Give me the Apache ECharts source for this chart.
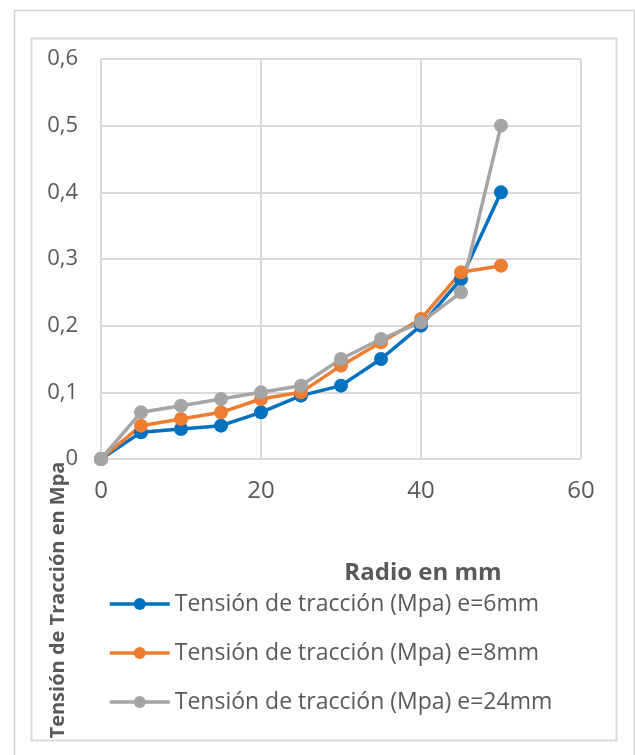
<!DOCTYPE html>
<html>
<head>
<meta charset="utf-8">
<script src="https://cdn.jsdelivr.net/npm/echarts@6/dist/echarts.min.js"></script>
<style>
  html, body { margin: 0; padding: 0; background: #fff; }
  #chart { width: 635px; height: 755px; }
</style>
</head>
<body>
<div id="chart"></div>
<script>
// Radius (mm) at which the tensile stress was measured
const radios = [0, 5, 10, 15, 20, 25, 30, 35, 40, 45, 50];
// Tensile stress (MPa) for each plate thickness
const tension6mm = [0, 0.04, 0.045, 0.05, 0.07, 0.095, 0.11, 0.15, 0.2, 0.27, 0.4];
const tension8mm = [0, 0.05, 0.06, 0.07, 0.09, 0.1, 0.14, 0.175, 0.21, 0.28, 0.29];
const tension24mm = [0, 0.07, 0.08, 0.09, 0.1, 0.11, 0.15, 0.18, 0.205, 0.25, 0.5];
const seriesNames = [
  'Tensión de tracción (Mpa) e=6mm',
  'Tensión de tracción (Mpa) e=8mm',
  'Tensión de tracción (Mpa) e=24mm'
];
const seriesColors = ['#0070c0', '#ed7d31', '#a5a5a5'];

const textColor = '#595959';
const fontFamily = 'Open Sans, Liberation Sans, sans-serif';

function pairs(ys) {
  return radios.map((x, i) => [x, ys[i]]);
}

const chart = echarts.init(document.getElementById('chart'), null, { renderer: 'canvas' });

chart.setOption({
  backgroundColor: '#ffffff',
  animation: false,
  grid: { left: 101, right: 54, top: 59, bottom: 296 },
  xAxis: {
    type: 'value', min: 0, max: 60, interval: 20,
    axisLine: { show: false },
    axisTick: { show: false },
    splitLine: { show: true, lineStyle: { color: '#d9d9d9', width: 2 } },
    axisLabel: { color: textColor, fontSize: 24, fontFamily: fontFamily, margin: 20 }
  },
  yAxis: {
    type: 'value', min: 0, max: 0.6, interval: 0.1,
    axisLine: { show: false },
    axisTick: { show: false },
    splitLine: { show: true, lineStyle: { color: '#d9d9d9', width: 2 } },
    axisLabel: {
      color: textColor, fontSize: 22, fontFamily: fontFamily, margin: 23,
      formatter: v => (v === 0 ? '0' : v.toFixed(1).replace('.', ','))
    }
  },
  legend: {
    orient: 'vertical', left: 103, top: 587,
    itemWidth: 60, itemHeight: 15, itemGap: 25,
    lineStyle: { width: 3.5 },
    textStyle: { color: textColor, fontSize: 23, lineHeight: 24, fontFamily: fontFamily },
    data: seriesNames
  },
  graphic: [
    { type: 'rect', silent: true, z: -1,
      shape: { x: 14.5, y: 10.5, width: 620, height: 760 },
      style: { fill: 'none', stroke: '#d0d0d0', lineWidth: 1.5 } },
    { type: 'rect', silent: true, z: -1,
      shape: { x: 31.5, y: 38.5, width: 585, height: 702 },
      style: { fill: 'none', stroke: '#d9d9d9', lineWidth: 2 } },
    { type: 'text', x: 423, y: 573,
      style: { text: 'Radio en mm', fill: textColor, font: 'bold 24px ' + fontFamily,
               textAlign: 'center', textVerticalAlign: 'middle' } },
    { type: 'text', x: 58, y: 600, rotation: Math.PI / 2,
      style: { text: 'Tensión de Tracción en Mpa', fill: textColor, font: 'bold 20px ' + fontFamily,
               textAlign: 'center', textVerticalAlign: 'middle' } }
  ],
  series: [tension6mm, tension8mm, tension24mm].map((ys, i) => ({
    name: seriesNames[i],
    type: 'line',
    data: pairs(ys),
    symbol: 'circle',
    symbolSize: 14,
    color: seriesColors[i],
    lineStyle: { width: 3.5, color: seriesColors[i] },
    itemStyle: { color: seriesColors[i] }
  }))
});
</script>
</body>
</html>
